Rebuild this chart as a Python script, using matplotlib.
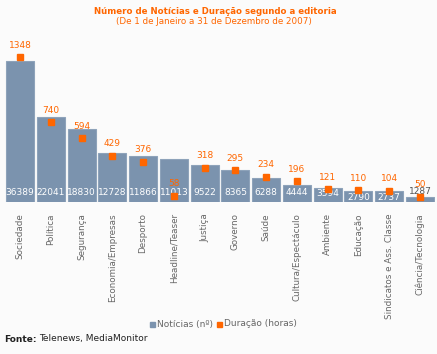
import numpy as np
import matplotlib.pyplot as plt

categorias = ['Sociedade', 'Política', 'Segurança', 'Economia/Empresas', 'Desporto',
              'Headline/Teaser', 'Justiça', 'Governo', 'Saúde', 'Cultura/Espectáculo',
              'Ambiente', 'Educação', 'Sindicatos e Ass. Classe', 'Ciência/Tecnologia']
noticias = [36389, 22041, 18830, 12728, 11866, 11013, 9522, 8365, 6288, 4444,
            3594, 2790, 2737, 1287]
duracao = [1348, 740, 594, 429, 376, 58, 318, 295, 234, 196, 121, 110, 104, 50]

azul = '#7b93ae'
laranja = '#ff6600'
fundo = '#fbfbfb'

fig = plt.figure(figsize=(4.37, 3.54), dpi=100, facecolor=fundo)
W, H = 437, 354
ax = fig.add_axes([4.6 / W, (H - 202) / H, 430.8 / W, 157 / H])
ax.set_facecolor(fundo)
ax2 = ax.twinx()

x = np.arange(len(categorias))
ax.bar(x, noticias, width=0.91, color=azul, edgecolor='#8ea3ba', linewidth=0.8, zorder=2)
ax.set_xlim(-0.5, len(categorias) - 0.5)
ax.set_ylim(0, 40516)
ax2.set_ylim(0, 1459)

for xi, n in zip(x, noticias):
    if n > 2000:
        # rótulo branco dentro da barra, desce um pouco nas barras baixas
        ax.text(xi, min(2323, n - 1500), str(n), color='white', fontsize=6.5,
                ha='center', va='center', zorder=3)
    else:
        ax.text(xi, n + 1300, str(n), color='#555555', fontsize=6.5,
                ha='center', va='center', zorder=3)

ax2.plot(x, duracao, 's', color=laranja, markersize=4.3, zorder=4)
for xi, d in zip(x, duracao):
    ax2.text(xi, d + 110, str(d), color=laranja, fontsize=6.5, ha='center', va='center', zorder=5)

for a in (ax, ax2):
    for s in a.spines.values():
        s.set_visible(False)
    a.set_yticks([])
ax.set_xticks(x)
ax.set_xticklabels(categorias, rotation=90, fontsize=6.3, color='#666666', va='top')
ax.tick_params(axis='x', length=0, pad=8)

fig.text(215 / W, 1 - 11 / H, 'Número de Notícias e Duração segundo a editoria',
         color=laranja, fontsize=6.2, fontweight='bold', ha='center', va='center')
fig.text(214 / W, 1 - 22 / H, '(De 1 de Janeiro a 31 de Dezembro de 2007)',
         color=laranja, fontsize=6.3, ha='center', va='center')

# legenda
fig.patches.append(plt.Rectangle((150 / W, 1 - 327 / H), 5 / W, 5 / H, color=azul,
                                 transform=fig.transFigure, figure=fig))
fig.text(157 / W, 1 - 324 / H, 'Notícias (nº)', color='#666666', fontsize=6.5, va='center')
fig.patches.append(plt.Rectangle((217 / W, 1 - 327 / H), 5 / W, 5 / H, color=laranja,
                                 transform=fig.transFigure, figure=fig))
fig.text(224 / W, 1 - 324 / H, 'Duração (horas)', color='#666666', fontsize=6.5, va='center')

fig.text(4 / W, 1 - 339 / H, 'Fonte:', color='#222222', fontsize=6.5, fontweight='bold', va='center')
fig.text(39 / W, 1 - 339 / H, 'Telenews, MediaMonitor', color='#222222', fontsize=6.5, va='center')

plt.savefig('out.png', dpi=100, facecolor=fundo)
